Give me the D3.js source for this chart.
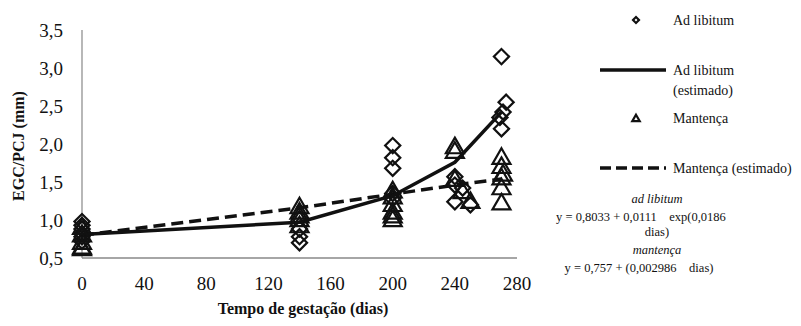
<!DOCTYPE html>
<html>
<head>
<meta charset="utf-8">
<script src="https://cdn.jsdelivr.net/npm/d3@7"></script>
<style>
  body { margin: 0; background: #fff; }
</style>
</head>
<body>
<div id="chart"></div>
<script>
// x ticks and y ticks
var xTicks = [0, 40, 80, 120, 160, 200, 240, 280];
var yTicks = [0.5, 1.0, 1.5, 2.0, 2.5, 3.0, 3.5];

// estimated curves
var estDays = [0, 140, 200, 240, 270];
var adLibEst = [0.81, 0.97, 1.32, 1.76, 2.42];
var mantEst = [0.80, 1.16, 1.34, 1.46, 1.54];

// observed points, ad libitum (diamonds)
var adLibDays = [0, 0, 0, 0, 0, 0,
                 140, 140, 140,
                 200, 200, 200, 200, 200,
                 240, 240, 240, 245, 250,
                 270, 273, 271, 269, 270];
var adLibValues = [0.98, 0.93, 0.88, 0.82, 0.78, 0.72,
                   0.88, 0.78, 0.70,
                   1.98, 1.82, 1.68, 1.35, 1.28,
                   1.57, 1.46, 1.24, 1.42, 1.20,
                   3.15, 2.55, 2.42, 2.35, 2.20];

// observed points, mantença (triangles)
var mantDays = [0, 0, 0, 0, 0,
                140, 140, 140, 140, 140,
                200, 200, 200, 200, 200, 200,
                240, 240, 240, 245, 250,
                270, 270, 271, 270, 270, 270];
var mantValues = [0.90, 0.80, 0.70, 0.64, 0.62,
                  1.17, 1.10, 1.05, 1.00, 0.92,
                  1.38, 1.30, 1.20, 1.10, 1.05, 1.00,
                  1.96, 1.90, 1.53, 1.37, 1.24,
                  1.82, 1.70, 1.60, 1.55, 1.42, 1.22];

var W = 801, H = 326;
var serif = "Liberation Serif";
var svg = d3.select("#chart").append("svg")
    .attr("width", W)
    .attr("height", H)
    .attr("font-family", serif);

var x = d3.scaleLinear().domain([0, 280]).range([82, 517]);
var y = d3.scaleLinear().domain([0.5, 3.5]).range([258, 30]);
var fmt = function(d) { return d3.format(".1f")(d).replace(".", ","); };

// axis lines
svg.append("line")
    .attr("x1", x(0)).attr("x2", x(0))
    .attr("y1", y(3.5)).attr("y2", y(0.5))
    .attr("stroke", "#888").attr("stroke-width", 1.2);
svg.append("line")
    .attr("x1", x(0)).attr("x2", x(280))
    .attr("y1", y(0.5)).attr("y2", y(0.5))
    .attr("stroke", "#888").attr("stroke-width", 1.5);

// tick labels
svg.selectAll(".ylab").data(yTicks).enter().append("text")
    .attr("class", "ylab")
    .attr("x", 63)
    .attr("y", function(d) { return y(d); })
    .attr("dy", "0.35em")
    .attr("text-anchor", "end")
    .attr("font-family", serif)
    .attr("font-size", 19)
    .attr("fill", "#111")
    .text(fmt);

svg.selectAll(".xlab").data(xTicks).enter().append("text")
    .attr("class", "xlab")
    .attr("x", function(d) { return x(d); })
    .attr("y", 290)
    .attr("text-anchor", "middle")
    .attr("font-family", serif)
    .attr("font-size", 19)
    .attr("fill", "#111")
    .text(function(d) { return d; });

// axis titles
svg.append("text")
    .attr("x", 303).attr("y", 314)
    .attr("text-anchor", "middle")
    .attr("font-family", serif)
    .attr("font-size", 16).attr("font-weight", "bold")
    .attr("fill", "#111")
    .text("Tempo de gestação (dias)");

svg.append("text")
    .attr("transform", "translate(24,146) rotate(-90)")
    .attr("text-anchor", "middle")
    .attr("font-family", serif)
    .attr("font-size", 16).attr("font-weight", "bold")
    .attr("fill", "#111")
    .text("EGC/PCJ (mm)");

// estimated lines
var line = d3.line()
    .x(function(d) { return x(d[0]); })
    .y(function(d) { return y(d[1]); });

svg.append("path")
    .datum(d3.zip(estDays, mantEst))
    .attr("d", line)
    .attr("fill", "none").attr("stroke", "#111")
    .attr("stroke-width", 3.5)
    .attr("stroke-dasharray", "12,6");

svg.append("path")
    .datum(d3.zip(estDays, adLibEst))
    .attr("d", line)
    .attr("fill", "none").attr("stroke", "#111")
    .attr("stroke-width", 3.5);

// markers
var diamond = d3.symbol().type(d3.symbolSquare).size(115);
var triangle = d3.symbol().type(d3.symbolTriangle).size(140);

svg.selectAll(".dia").data(d3.zip(adLibDays, adLibValues)).enter().append("path")
    .attr("class", "dia")
    .attr("d", diamond)
    .attr("transform", function(d) { return "translate(" + x(d[0]) + "," + y(d[1]) + ") rotate(45)"; })
    .attr("fill", "none").attr("stroke", "#111").attr("stroke-width", 2.2);

svg.selectAll(".tri").data(d3.zip(mantDays, mantValues)).enter().append("path")
    .attr("class", "tri")
    .attr("d", triangle)
    .attr("transform", function(d) { return "translate(" + x(d[0]) + "," + (y(d[1]) + 1) + ")"; })
    .attr("fill", "none").attr("stroke", "#111").attr("stroke-width", 2.2);

// legend
var lg = svg.append("g").attr("font-size", 14).attr("font-family", serif).attr("fill", "#111");

lg.append("path")
    .attr("d", d3.symbol().type(d3.symbolSquare).size(18))
    .attr("transform", "translate(636,20) rotate(45)")
    .attr("fill", "none").attr("stroke", "#111").attr("stroke-width", 2.2);
lg.append("text").attr("x", 673).attr("y", 25).text("Ad libitum");

lg.append("line")
    .attr("x1", 600).attr("x2", 666).attr("y1", 70).attr("y2", 70)
    .attr("stroke", "#111").attr("stroke-width", 3.5);
lg.append("text").attr("x", 673).attr("y", 75).text("Ad libitum");
lg.append("text").attr("x", 673).attr("y", 95).text("(estimado)");

lg.append("path")
    .attr("d", d3.symbol().type(d3.symbolTriangle).size(24))
    .attr("transform", "translate(636,119)")
    .attr("fill", "none").attr("stroke", "#111").attr("stroke-width", 2.2);
lg.append("text").attr("x", 673).attr("y", 123).text("Mantença");

lg.append("line")
    .attr("x1", 600).attr("x2", 666).attr("y1", 168).attr("y2", 168)
    .attr("stroke", "#111").attr("stroke-width", 3.5)
    .attr("stroke-dasharray", "11,5");
lg.append("text").attr("x", 673).attr("y", 173).text("Mantença (estimado)");

// equations
var eq = svg.append("g").attr("font-size", 12.5).attr("font-family", serif)
    .attr("fill", "#111").attr("text-anchor", "middle");
eq.append("text").attr("x", 657).attr("y", 203).attr("font-style", "italic").text("ad libitum");
eq.append("text").attr("x", 641).attr("y", 221).attr("xml:space", "preserve").text("y = 0,8033 + 0,0111    exp(0,0186");
eq.append("text").attr("x", 657).attr("y", 236).text("dias)");
eq.append("text").attr("x", 657).attr("y", 254).attr("font-style", "italic").text("mantença");
eq.append("text").attr("x", 639).attr("y", 272).attr("xml:space", "preserve").text("y = 0,757 + (0,002986    dias)");
</script>
</body>
</html>
